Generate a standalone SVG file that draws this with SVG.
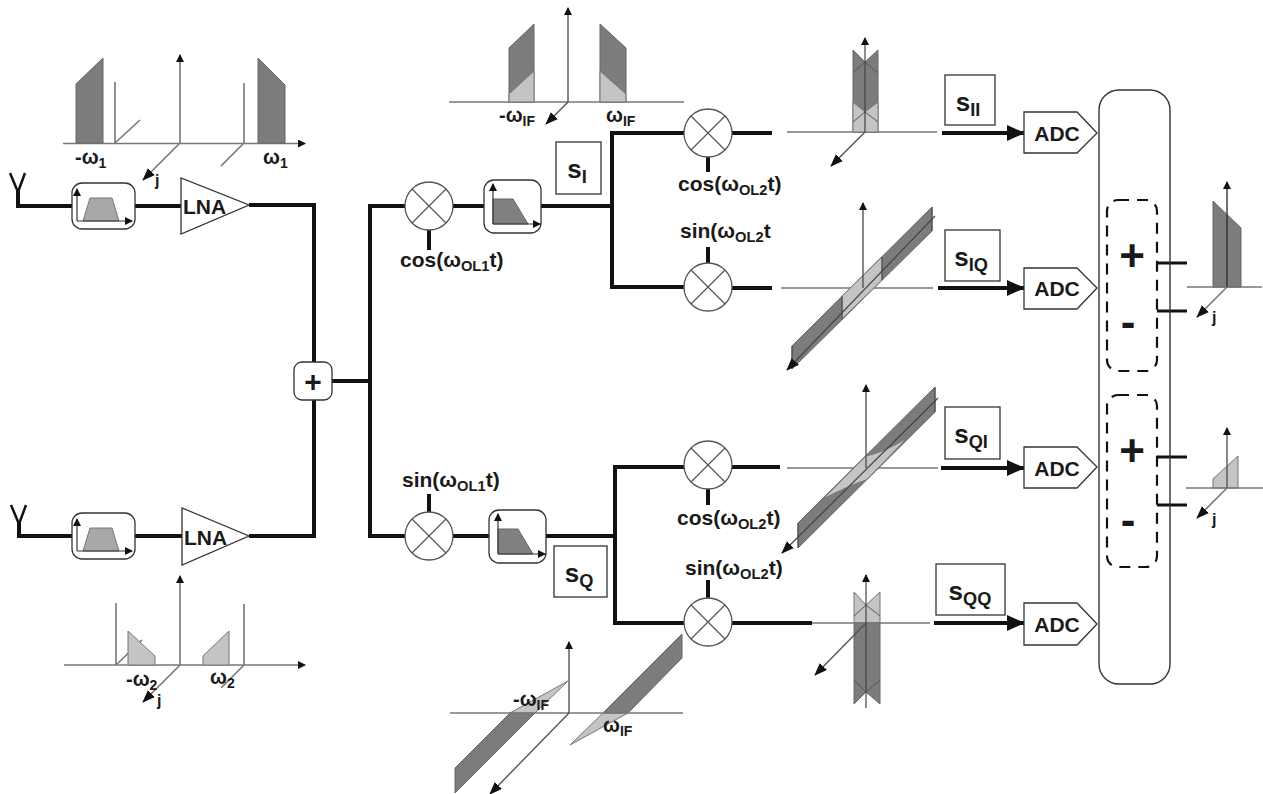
<svg xmlns="http://www.w3.org/2000/svg" width="1263" height="794" viewBox="0 0 1263 794">
<style>
.w{fill:none;stroke:#111;stroke-width:4;stroke-linejoin:miter}
.ax{fill:none;stroke:#777;stroke-width:1.6}
.axd{fill:none;stroke:#555;stroke-width:1.4}
.dk{fill:#7c7c7c;stroke:#666;stroke-width:1}
.lt{fill:#c4c4c4;stroke:#777;stroke-width:1}
.bx{fill:#fff;stroke:#333;stroke-width:1.3}
.m{fill:#fff;stroke:#555;stroke-width:1.3}
.t{font-family:"Liberation Sans",Arial,sans-serif;font-weight:bold;fill:#1a1a1a}
.lb{font-size:21px}
.sp{font-size:20px}
.ad{font-size:21px;text-anchor:middle}
.s{font-size:26px;text-anchor:middle}
.fp{fill:#a8a8a8;stroke:#777;stroke-width:1}
.fa{fill:none;stroke:#333;stroke-width:1.2}
.dash{fill:none;stroke:#111;stroke-width:2.2;stroke-dasharray:11 8}
.sub{font-size:70%}
</style>
<defs>
<marker id="ah" markerWidth="8" markerHeight="8" refX="7" refY="4" orient="auto" markerUnits="userSpaceOnUse"><path d="M0 0L8 4L0 8Z" fill="#111"/></marker>
<marker id="ahb" markerWidth="13" markerHeight="10" refX="12" refY="5" orient="auto" markerUnits="userSpaceOnUse"><path d="M0 0L13 5L0 10Z" fill="#111"/></marker>
<marker id="ahs" markerWidth="18" markerHeight="16" refX="17" refY="8" orient="auto" markerUnits="userSpaceOnUse"><path d="M0 0L18 8L0 16Z" fill="#111"/></marker>
<g id="mx"><circle r="24" class="m"/><path d="M-17-17L17 17M17-17L-17 17" stroke="#555" stroke-width="1.2"/></g>
<g id="bp"><rect x="0" y="0" width="63" height="46" rx="10" class="bx"/><path d="M11 38L18 15H40L47 38Z" class="fp"/><path d="M5 38H60" class="fa" marker-end="url(#ah)"/><path d="M5 38V6" class="fa" marker-end="url(#ah)"/></g>
<g id="lp"><rect x="0" y="0" width="57" height="53" rx="10" class="bx"/><path d="M9 19H29L44 44H9Z" fill="#808080" stroke="#666"/><path d="M9 44H56" class="fa" marker-end="url(#ah)"/><path d="M9 44V4" class="fa" marker-end="url(#ah)"/></g>
</defs>

<g id="connectors">
<path class="w" d="M18 190V206H72M135 206H181M249 205H314V536H249"/>
<path class="w" d="M19 522V536H72M135 536H182"/>
<path class="w" d="M332 381H370M405 206H370V536H405M453 206H484M541 206H612M684 133H612V287H684"/>
<path class="w" d="M453 536H489M546 536H615M684 467H615V623H684"/>
<path class="w" d="M732 133H772M732 288H772M732 467H780M732 623H812"/>
<path class="w" d="M429 230V250M429 494V512M708 157V172M708 247V263M708 489V505M708 580V598"/>
<path class="w" d="M942 133H1024" marker-end="url(#ahs)"/>
<path class="w" d="M938 288H1024" marker-end="url(#ahs)"/>
<path class="w" d="M941 468H1024" marker-end="url(#ahs)"/>
<path class="w" d="M934 623H1024" marker-end="url(#ahs)"/>
<path class="w" d="M1157 263H1187M1157 311H1187M1157 457H1187M1157 505H1187" style="stroke-width:3"/>
</g>

<g id="antenna1"><path d="M10 173L18 192L25 173" fill="none" stroke="#111" stroke-width="2.5"/></g>
<g id="antenna2"><path d="M11 505L19 524L26 505" fill="none" stroke="#111" stroke-width="2.5"/></g>

<g id="filter1"><use href="#bp" x="72" y="183"/></g>
<g id="filter2"><use href="#bp" x="72" y="513"/></g>
<g id="lna1"><path d="M181 178V234L249 205Z" class="bx"/><text class="t" x="183" y="214" font-size="21">LNA</text></g>
<g id="lna2"><path d="M182 508V565L249 536Z" class="bx"/><text class="t" x="184" y="545" font-size="21">LNA</text></g>
<g id="sum"><rect x="294" y="362" width="38" height="38" rx="8" class="bx"/><text class="t" x="313" y="392" font-size="30" text-anchor="middle">+</text></g>

<g id="spectrum1">
<path class="ax" d="M63 143.500H305" marker-end="url(#ah)"/>
<path class="ax" d="M180 143V55" marker-end="url(#ah)"/>
<path class="dk" d="M76 143V84L103 58V143Z"/><path class="dk" d="M258 143V58L285 85V143Z"/>
<path class="ax" d="M115 143V82M115 143L140 120M244 143V83M244 143L221 166"/>
<path class="ax" d="M180 143L143 180" marker-end="url(#ahb)"/>
<text class="t sp" x="75" y="164">-ω<tspan class="sub" dy="4">1</tspan></text>
<text class="t sp" x="263" y="164">ω<tspan class="sub" dy="4">1</tspan></text>
<text class="t" x="155" y="186" font-size="16">j</text>
</g>

<g id="spectrum2">
<path class="ax" d="M64 665H305" marker-end="url(#ah)"/>
<path class="ax" d="M180 665V576" marker-end="url(#ah)"/>
<path class="ax" d="M116 665V603M116 665L142 640M244 665V604M244 665L221 688"/>
<path class="lt" d="M128 665V631L155 656V665Z"/><path class="lt" d="M203 665V656L229 631V665Z"/>
<path class="ax" d="M180 665L143 702" marker-end="url(#ahb)"/>
<text class="t sp" x="126" y="686">-ω<tspan class="sub" dy="4">2</tspan></text>
<text class="t sp" x="210" y="684">ω<tspan class="sub" dy="4">2</tspan></text>
<text class="t" x="157" y="706" font-size="16">j</text>
</g>

<g id="mixer1"><use href="#mx" x="429" y="206"/><text class="t lb" x="400" y="267">cos(ω<tspan class="sub" dy="4">OL1</tspan><tspan dy="-4">t)</tspan></text></g>
<g id="lpf1"><use href="#lp" x="484" y="180"/></g>
<g id="si"><rect x="556" y="142" width="45" height="52" class="bx"/><text class="t s" x="577" y="178">s<tspan class="sub" dy="5">I</tspan></text></g>
<g id="mixer2"><use href="#mx" x="429" y="536"/><text class="t lb" x="402" y="487">sin(ω<tspan class="sub" dy="4">OL1</tspan><tspan dy="-4">t)</tspan></text></g>
<g id="lpf2"><use href="#lp" x="489" y="510"/></g>
<g id="sq"><rect x="554" y="546" width="53" height="51" class="bx"/><text class="t s" x="579" y="582">s<tspan class="sub" dy="5">Q</tspan></text></g>

<g id="spectrum3">
<path class="ax" d="M449 102H684"/>
<path class="axd" d="M568 102V8" marker-end="url(#ah)"/>
<path class="dk" d="M509 102V48L534 24V102Z"/><path class="lt" d="M509 102V94L534 71V102Z"/>
<path class="dk" d="M600 102V24L626 48V102Z"/><path class="lt" d="M600 102V71L626 94V102Z"/>
<path class="axd" d="M568 102L546 124" marker-end="url(#ahb)"/>
<text class="t sp" x="499" y="122">-ω<tspan class="sub" dy="4">IF</tspan></text>
<text class="t sp" x="606" y="122">ω<tspan class="sub" dy="4">IF</tspan></text>
</g>

<g id="spectrum4">
<path class="dk" d="M455 768L510 713H535L455 793Z"/>
<path class="lt" d="M510 713L568 681L535 713Z"/>
<path class="dk" d="M682 634V658L628 713H603Z"/>
<path class="lt" d="M603 713H628L570 745Z"/>
<path class="ax" d="M450 713H683"/>
<path class="axd" d="M569 713V642" marker-end="url(#ah)"/>
<path class="axd" d="M569 713L490 794" marker-end="url(#ahb)"/>
<text class="t sp" x="513" y="706">-ω<tspan class="sub" dy="4">IF</tspan></text>
<text class="t sp" x="603" y="732">ω<tspan class="sub" dy="4">IF</tspan></text>
</g>

<g id="mixerII"><use href="#mx" x="708" y="133"/><text class="t lb" x="678" y="191">cos(ω<tspan class="sub" dy="4">OL2</tspan><tspan dy="-4">t)</tspan></text></g>
<g id="mixerIQ"><use href="#mx" x="708" y="287"/><text class="t lb" x="680" y="238">sin(ω<tspan class="sub" dy="4">OL2</tspan><tspan dy="-4">t</tspan></text></g>
<g id="mixerQI"><use href="#mx" x="708" y="465"/><text class="t lb" x="677" y="525">cos(ω<tspan class="sub" dy="4">OL2</tspan><tspan dy="-4">t)</tspan></text></g>
<g id="mixerQQ"><use href="#mx" x="708" y="622"/><text class="t lb" x="685" y="575">sin(ω<tspan class="sub" dy="4">OL2</tspan><tspan dy="-4">t)</tspan></text></g>

<g id="specII">
<path class="ax" d="M787 132H937"/>
<path class="dk" d="M853 50L865 62L878 50V132H853Z"/>
<path class="lt" d="M853 132V102L865 112L878 102V132Z"/>
<path d="M853 73L865 62L878 73M853 122L865 112L878 122" fill="none" stroke="#555" stroke-width="1"/>
<path d="M865 132V38" stroke="#444" stroke-width="1.2" marker-end="url(#ah)"/>
<path class="axd" d="M865 132L831 166" marker-end="url(#ahb)"/>
</g>
<g id="specIQ">
<path class="ax" d="M781 288H933"/>
<path class="dk" d="M792 346L932 207V231L792 369Z"/>
<path class="lt" d="M842 296L882 257V280L842 319Z"/>
<path d="M842 296V319M882 257V280M932 207V231M792 346V369" stroke="#444" fill="none"/>
<path class="axd" d="M863 288V203" marker-end="url(#ah)"/>
<path d="M935 216L787 370" stroke="#444" stroke-width="1.2" marker-end="url(#ahb)"/>
</g>
<g id="specQI">
<path class="ax" d="M787 468H938"/>
<path class="dk" d="M798 523L935 387V412L798 548Z"/>
<path class="lt" d="M823 499L866 456Q885 452 907 438L880 466L866 480Q848 486 823 499Z"/>
<path d="M798 523V548M935 387V412" stroke="#444" fill="none"/>
<path class="axd" d="M866 468V385" marker-end="url(#ah)"/>
<path d="M938 398L782 553" stroke="#444" stroke-width="1.2" marker-end="url(#ahb)"/>
</g>
<g id="specQQ">
<path class="lt" d="M854 592L866 605L880 592V623H854Z"/>
<path class="dk" d="M854 623H880V704L866 692L854 704Z"/>
<path d="M854 616L866 605L880 616M854 680L866 692L880 680" fill="none" stroke="#555"/>
<path class="ax" d="M812 623H930"/>
<path d="M866 708V575" stroke="#444" stroke-width="1.2" marker-end="url(#ah)"/>
<path class="axd" d="M866 623L815 675" marker-end="url(#ahb)"/>
</g>

<g id="sII"><rect x="945" y="75" width="50" height="50" class="bx"/><text class="t s" x="968" y="111">s<tspan class="sub" dy="5">II</tspan></text></g>
<g id="sIQ"><rect x="945" y="230" width="55" height="51" class="bx"/><text class="t s" x="971" y="266">s<tspan class="sub" dy="5">IQ</tspan></text></g>
<g id="sQI"><rect x="945" y="407" width="55" height="52" class="bx"/><text class="t s" x="971" y="443">s<tspan class="sub" dy="5">QI</tspan></text></g>
<g id="sQQ"><rect x="936" y="564" width="69" height="51" class="bx"/><text class="t s" x="970" y="600">s<tspan class="sub" dy="5">QQ</tspan></text></g>

<g id="adc1"><path class="bx" d="M1024 112H1077L1097 133L1077 153H1024Z"/><text class="t ad" x="1057" y="141">ADC</text></g>
<g id="adc2"><path class="bx" d="M1024 268H1077L1097 288L1077 309H1024Z"/><text class="t ad" x="1057" y="296">ADC</text></g>
<g id="adc3"><path class="bx" d="M1024 447H1077L1097 467L1077 488H1024Z"/><text class="t ad" x="1057" y="476">ADC</text></g>
<g id="adc4"><path class="bx" d="M1024 603H1077L1097 624L1077 645H1024Z"/><text class="t ad" x="1057" y="632">ADC</text></g>

<g id="combiner"><rect x="1099" y="90" width="71" height="594" rx="20" fill="none" stroke="#333" stroke-width="1.4"/></g>
<g id="sumPM1"><rect x="1107" y="200" width="50" height="171" rx="11" class="dash"/><text class="t" x="1132" y="271" font-size="44" text-anchor="middle">+</text><text class="t" x="1128" y="337" font-size="44" text-anchor="middle">-</text></g>
<g id="sumPM2"><rect x="1107" y="395" width="50" height="172" rx="11" class="dash"/><text class="t" x="1132" y="466" font-size="44" text-anchor="middle">+</text><text class="t" x="1128" y="535" font-size="44" text-anchor="middle">-</text></g>

<g id="outSpec1">
<path class="ax" d="M1187 287H1262"/>
<path class="dk" d="M1213 287V201L1241 228V287Z"/>
<path d="M1227 287V182" stroke="#333" stroke-width="1.4" marker-end="url(#ah)"/>
<path class="ax" d="M1227 287L1197 317" marker-end="url(#ahb)"/>
<text class="t" x="1212" y="323" font-size="16">j</text>
</g>
<g id="outSpec2">
<path class="lt" d="M1213 488V479L1238 456V488Z"/>
<path class="ax" d="M1186 488H1263"/>
<path class="axd" d="M1227 488V428" marker-end="url(#ah)"/>
<path class="ax" d="M1227 488L1197 518" marker-end="url(#ahb)"/>
<text class="t" x="1212" y="525" font-size="16">j</text>
</g>
</svg>
